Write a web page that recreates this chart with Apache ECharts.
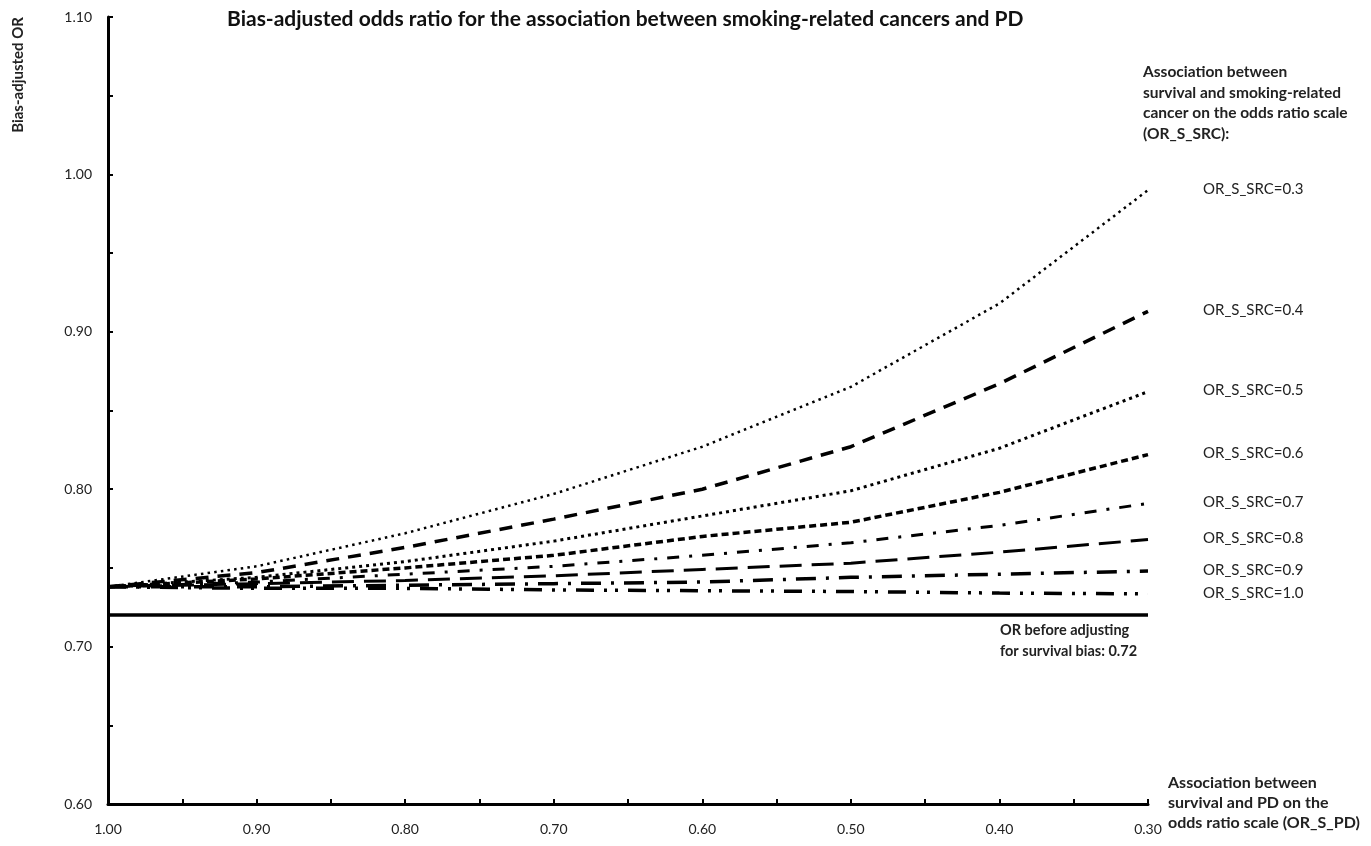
<!DOCTYPE html>
<html>
<head>
<meta charset="utf-8">
<title>Bias-adjusted OR</title>
<script src="https://cdn.jsdelivr.net/npm/echarts@6/dist/echarts.min.js"></script>
<style>
  html, body { margin: 0; padding: 0; background: #fff; }
  #chart { width: 1371px; height: 846px; }
</style>
</head>
<body>
<div id="chart"></div>
<script>
// OR_S_PD values along the x axis (axis runs 1.00 -> 0.30)
var orSPD = [1.0, 0.9, 0.8, 0.7, 0.6, 0.5, 0.4, 0.3];

// bias-adjusted OR, one array per OR_S_SRC value
var src03 = [0.738, 0.751, 0.772, 0.797, 0.827, 0.865, 0.918, 0.990];
var src04 = [0.738, 0.747, 0.763, 0.781, 0.800, 0.827, 0.867, 0.913];
var src05 = [0.738, 0.744, 0.754, 0.767, 0.783, 0.799, 0.826, 0.862];
var src06 = [0.738, 0.743, 0.750, 0.758, 0.770, 0.779, 0.798, 0.822];
var src07 = [0.738, 0.741, 0.746, 0.751, 0.758, 0.766, 0.777, 0.791];
var src08 = [0.738, 0.740, 0.742, 0.745, 0.749, 0.753, 0.760, 0.768];
var src09 = [0.738, 0.738, 0.739, 0.740, 0.741, 0.744, 0.746, 0.748];
var src10 = [0.738, 0.737, 0.737, 0.736, 0.7355, 0.735, 0.734, 0.7335];

var seriesNames = ['OR_S_SRC=0.3', 'OR_S_SRC=0.4', 'OR_S_SRC=0.5', 'OR_S_SRC=0.6',
  'OR_S_SRC=0.7', 'OR_S_SRC=0.8', 'OR_S_SRC=0.9', 'OR_S_SRC=1.0'];
var seriesValues = [src03, src04, src05, src06, src07, src08, src09, src10];

// unadjusted OR
var orUnadjusted = 0.72;

var FONT = 'Lato, "Open Sans", sans-serif';

// dash pattern + width per curve, same order as seriesNames
var styles = [
  {type: [2.5, 4.2], width: 2.5},
  {type: [13, 9], width: 3.5},
  {type: [3, 4], width: 3},
  {type: [7, 4], width: 3.5},
  {type: [12, 10, 3, 10], width: 3},
  {type: [22, 10], width: 3},
  {type: [20, 10, 3, 10], width: 3.5},
  {type: [18, 10, 3, 8, 3, 10], width: 3.5}
];

function isTenth(v) {
  return Math.abs(v * 10 - Math.round(v * 10)) < 1e-6;
}

function buildSeries() {
  var out = [];
  seriesNames.forEach(function (name, i) {
    out.push({
      name: name,
      type: 'line',
      symbol: 'none',
      smooth: false,
      data: orSPD.map(function (x, j) { return [x, seriesValues[i][j]]; }),
      lineStyle: {color: '#000', width: styles[i].width, type: styles[i].type},
      endLabel: {
        show: true,
        formatter: function (p) { return p.seriesName; },
        align: 'left',
        offset: [63, -1],
        color: '#222',
        fontFamily: FONT,
        fontSize: 15
      },
      z: 10 - i
    });
  });
  out.push({
    name: 'unadjusted',
    type: 'line',
    symbol: 'none',
    data: [[orSPD[0], orUnadjusted], [orSPD[orSPD.length - 1], orUnadjusted]],
    lineStyle: {color: '#000', width: 3.5, type: 'solid'}
  });
  return out;
}

var chart = echarts.init(document.getElementById('chart'));

var options = {
  animation: false,
  backgroundColor: '#fff',
  title: {
    text: 'Bias-adjusted odds ratio for the association between smoking-related cancers and PD',
    left: 222,
    top: 4,
    textStyle: {fontFamily: FONT, fontSize: 21, fontWeight: 'bold', color: '#111'}
  },
  grid: {left: 108, right: 223, top: 17, bottom: 42, containLabel: false},
  xAxis: {
    type: 'value',
    inverse: true,
    min: 0.3,
    max: 1.0,
    interval: 0.05,
    axisLine: {lineStyle: {color: '#000', width: 3}},
    axisTick: {inside: true, length: 5, lineStyle: {color: '#000', width: 2}},
    splitLine: {show: false},
    axisLabel: {
      margin: 18,
      fontFamily: FONT,
      fontSize: 14,
      color: '#222',
      showMinLabel: true,
      showMaxLabel: true,
      formatter: function (v) { return isTenth(v) ? v.toFixed(2) : ''; }
    }
  },
  yAxis: {
    type: 'value',
    min: 0.6,
    max: 1.1,
    interval: 0.05,
    axisLine: {show: true, lineStyle: {color: '#000', width: 3}},
    axisTick: {show: true, inside: true, length: 5, lineStyle: {color: '#000', width: 2}},
    splitLine: {show: false},
    axisLabel: {
      margin: 16,
      fontFamily: FONT,
      fontSize: 14,
      color: '#222',
      formatter: function (v) { return isTenth(v) ? v.toFixed(2) : ''; }
    }
  },
  graphic: [
    {
      type: 'text', x: 18, y: 17, rotation: Math.PI / 2,
      style: {text: 'Bias-adjusted OR', textAlign: 'right', textVerticalAlign: 'middle',
        fontFamily: FONT, fontSize: 15, fontWeight: 'bold', fill: '#222'}
    },
    {
      type: 'text', x: 1143, y: 62,
      style: {text: 'Association between\nsurvival and smoking-related\ncancer on the odds ratio scale\n(OR_S_SRC):',
        lineHeight: 20.5, fontFamily: FONT, fontSize: 15.5, fontWeight: 'bold', fill: '#222'}
    },
    {
      type: 'text', x: 1000, y: 620,
      style: {text: 'OR before adjusting\nfor survival bias: 0.72',
        lineHeight: 21, fontFamily: FONT, fontSize: 14.5, fontWeight: 'bold', fill: '#222'}
    },
    {
      type: 'text', x: 1168, y: 773,
      style: {text: 'Association between\nsurvival and PD on the\nodds ratio scale (OR_S_PD)',
        lineHeight: 20, fontFamily: FONT, fontSize: 16, fontWeight: 'bold', fill: '#222'}
    }
  ],
  series: buildSeries()
};

chart.setOption(options);
</script>
</body>
</html>
